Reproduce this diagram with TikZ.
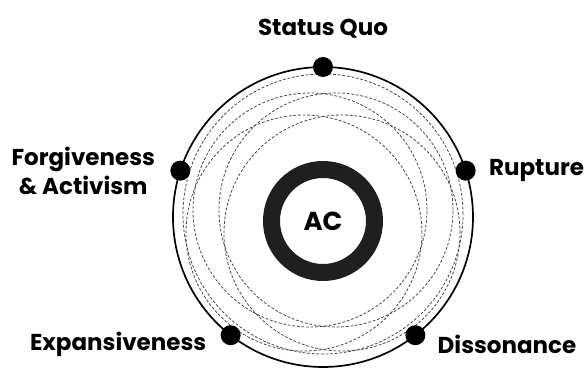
\documentclass[tikz,border=0pt]{standalone}
\usepackage{fontspec}
\setmainfont{Poppins}
\usetikzlibrary{positioning}

\begin{document}
\begin{tikzpicture}[
    x=1pt, y=1pt,
    node distance=14pt and 15pt,
    stage/.style={circle, fill=black, inner sep=0pt, minimum size=20pt},
    lbl/.style={font=\fontsize{23}{29}\selectfont\bfseries, align=center, inner sep=0pt},
    orbit/.style={draw=black!72, line width=0.8pt, dash pattern=on 2.8pt off 1.8pt},
    rim/.style={draw=black, line width=1.7pt},
    core/.style={circle, draw=black!88, line width=17pt, minimum size=103pt, inner sep=0pt,
                 font=\fontsize{26}{30}\selectfont\bfseries}
]
\useasboundingbox (-323,-152) rectangle (264,217);

% outer cycle
\coordinate (c) at (0,0);
\draw[rim] (c) circle[radius=150pt];

% dashed orbits
\draw[orbit] (0,3) circle[radius=140pt];
\draw[orbit] (13,7) circle[radius=117pt];
\draw[orbit] (-13,7) circle[radius=117pt];
\draw[orbit] (-19,-16) circle[radius=118pt];
\draw[orbit] (19,-16) circle[radius=118pt];

% centre
\node[core] (ac) at (0,-4) {AC};

% stages
\node[stage] (quo) at (90:150) {};
\node[stage] (rup) at (18:150) {};
\node[stage] (dis) at (308:150) {};
\node[stage] (exp) at (232:150) {};
\node[stage] (for) at (162:150) {};

\node[lbl, above=18pt of quo] (quolbl) {Status Quo};
\node[lbl, right=13pt of rup] (ruplbl) {Rupture};
\node[lbl, right=12pt of dis, yshift=-9pt] (dislbl) {Dissonance};
\node[lbl, left=14pt of exp, yshift=-9pt] (explbl) {Expansiveness};
\node[lbl, left=of for] (forlbl) {Forgiveness\\ \& Activism};
\end{tikzpicture}
\end{document}
